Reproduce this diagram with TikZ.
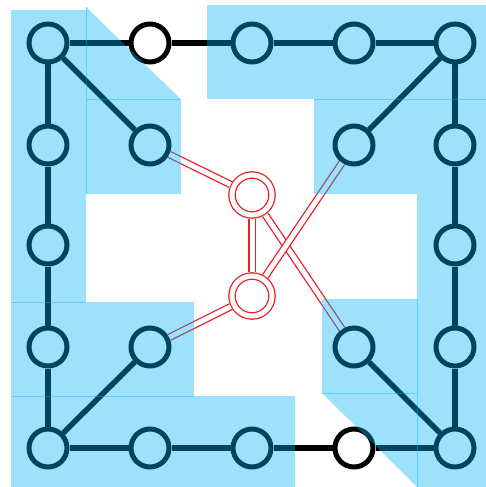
\documentclass[tikz,border=0pt]{standalone}
\definecolor{ovl}{RGB}{0,177,245}
\definecolor{rl}{RGB}{234,32,40}
\tikzset{
 vtx/.style={circle, draw=black, fill=white, line width=5pt, minimum size=38pt, inner sep=0pt},
 rvtx/.style={circle, draw=rl, double=white, double distance=5pt, line width=1.3pt, fill=white, minimum size=40pt, inner sep=0pt, outer sep=3.8pt},
 edg/.style={line width=5.5pt, draw=black},
 redg/.style={draw=rl, double=white, double distance=5pt, line width=1.3pt},
 region/.style={fill=ovl, fill opacity=0.384},
 seam/.style={draw=ovl, draw opacity=0.4, line width=1pt}
}
\begin{document}
\begin{tikzpicture}[x=1pt,y=-1pt]
\useasboundingbox (0,0) rectangle (486,487);
% nodes
\node[vtx] (a1) at (48,43) {};
\node[vtx] (a2) at (150,43) {};
\node[vtx] (a3) at (252,43) {};
\node[vtx] (a4) at (354,43) {};
\node[vtx] (a5) at (455,43) {};
\node[vtx] (b1) at (48,145) {};
\node[vtx] (b2) at (150,145) {};
\node[vtx] (b4) at (354,145) {};
\node[vtx] (b5) at (455,145) {};
\node[vtx] (c1) at (48,245) {};
\node[vtx] (c5) at (455,245) {};
\node[vtx] (d1) at (48,347) {};
\node[vtx] (d2) at (150,347) {};
\node[vtx] (d4) at (354,347) {};
\node[vtx] (d5) at (455,347) {};
\node[vtx] (e1) at (48,448) {};
\node[vtx] (e2) at (150,448) {};
\node[vtx] (e3) at (252,448) {};
\node[vtx] (e4) at (354,448) {};
\node[vtx] (e5) at (455,448) {};
\node[rvtx] (r1) at (252,195) {};
\node[rvtx] (r2) at (252,296) {};
% black edges
\draw[edg] (a1) -- (a2);
\draw[edg] (a2) -- (a3);
\draw[edg] (a3) -- (a4);
\draw[edg] (a4) -- (a5);
\draw[edg] (a5) -- (b4);
\draw[edg] (a5) -- (b5);
\draw[edg] (b5) -- (c5);
\draw[edg] (c5) -- (d5);
\draw[edg] (d5) -- (e5);
\draw[edg] (a1) -- (b2);
\draw[edg] (a1) -- (b1);
\draw[edg] (b1) -- (c1);
\draw[edg] (c1) -- (d1);
\draw[edg] (d1) -- (e1);
\draw[edg] (e1) -- (d2);
\draw[edg] (e1) -- (e2);
\draw[edg] (e2) -- (e3);
\draw[edg] (e3) -- (e4);
\draw[edg] (e4) -- (e5);
\draw[edg] (e5) -- (d4);
% red edges
\draw[redg] (b2) -- (r1);
\draw[redg] (r1) -- (r2);
\draw[redg] (r1) -- (d4);
\draw[redg] (r2) -- (b4);
\draw[redg] (d2) -- (r2);
% translucent regions
\fill[region] (11,10) rectangle (86,302);
\fill[region] (86,7) -- (180.5,99) -- (86,99) -- cycle;
\fill[region] (86,99) rectangle (180.5,193.5);
\fill[region] (11,302) rectangle (194,396);
\fill[region] (11,396) rectangle (295,487);
\fill[region] (207,5) rectangle (486,99);
\fill[region] (314,99) rectangle (486,193.5);
\fill[region] (417,193.5) rectangle (486,487);
\fill[region] (322,299) rectangle (417,393);
\fill[region] (322,393) -- (417,393) -- (417,487) -- cycle;
% seams
\draw[seam] (86,7) -- (86,193.5);
\draw[seam] (86,99) -- (180.5,99);
\draw[seam] (11,302) -- (86,302);
\draw[seam] (11,396) -- (194,396);
\draw[seam] (314,99) -- (486,99);
\draw[seam] (417,299) -- (417,487);
\draw[seam] (322,393) -- (417,393);
\end{tikzpicture}
\end{document}
